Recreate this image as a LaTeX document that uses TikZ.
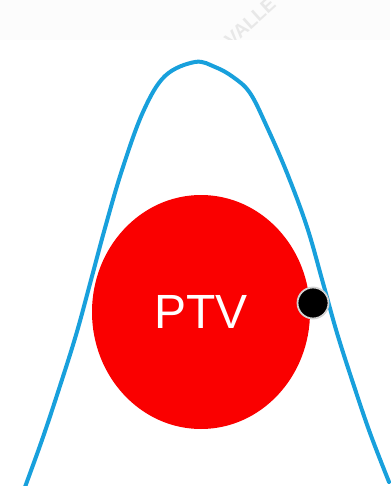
\documentclass[tikz,border=0pt]{standalone}
\usepackage{fontspec}
\setmainfont{Liberation Sans}
\usetikzlibrary{shapes.geometric}
\definecolor{curveblue}{RGB}{24,160,220}
\definecolor{ptvred}{RGB}{250,0,0}
\tikzset{
  curve/.style={draw=curveblue, line width=4pt, line cap=round, line join=round},
  target/.style={ellipse, fill=ptvred, minimum width=218pt, minimum height=234pt, inner sep=0pt,
    text=white, font=\fontsize{48}{48}\selectfont},
  marker/.style={circle, fill=black, draw=gray!35, line width=1.8pt, minimum size=31pt, inner sep=0pt},
  wmark/.style={text=gray!18, font=\fontsize{19}{19}\selectfont\bfseries, rotate=42}
}
\begin{document}
\begin{tikzpicture}[x=1pt,y=-1pt]
\useasboundingbox (0,0) rectangle (390,486);
\fill[gray!2] (0,0) rectangle (390,40);
\begin{scope}
\clip (0,0) rectangle (390,40);
\node[wmark] (wm) at (250,22) {VALLE};
\end{scope}
\draw[curve] plot[smooth, tension=0.6] coordinates {
 (25,487) (42,440) (58,392) (76,335) (91,280) (105,228) (122,170) (143,112) (165,76)
 (195,62) (215,67) (233,77) (250,93) (267,127) (287,173) (307,227) (323,283) (337,333)
 (353,383) (370,433) (389,482)};
\node[target] (ptv) at (201,312) {PTV};
\node[marker] (dot) at (313,303) {};
\end{tikzpicture}
\end{document}
